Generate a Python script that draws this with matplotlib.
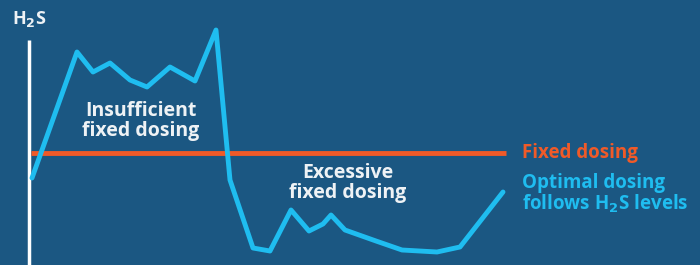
import matplotlib.pyplot as plt

# time (arbitrary units) and H2S level
time = [32, 77, 93, 110, 130, 147, 170, 195, 216, 230, 253, 270, 291, 309,
        323, 331, 345, 376, 402, 437, 460, 503]
h2s = [87, 213, 193, 202, 185, 178, 198, 184, 235, 85, 17, 14, 55, 34,
       41, 50, 35, 24, 15, 13, 18, 73]
fixed_level = 112
fixed_span = [31, 506]

bg = '#1b5782'
blue = '#1fbdf0'
orange = '#f05a28'
white = '#eef2f5'

plt.rcParams['font.family'] = ['Open Sans', 'DejaVu Sans']

fig = plt.figure(figsize=(7, 2.65), dpi=100, facecolor=bg)
ax = fig.add_axes([0, 0, 1, 1])
ax.set_facecolor(bg)
ax.set_xlim(0, 700)
ax.set_ylim(0, 265)
ax.axis('off')

# y axis
ax.plot([29, 29], [0, 225], color='white', lw=2.5, solid_capstyle='butt')

ax.plot(fixed_span, [fixed_level, fixed_level], color=orange, lw=3.5,
        solid_capstyle='butt')
ax.plot(time, h2s, color=blue, lw=3.5, solid_joinstyle='round',
        solid_capstyle='round')

ax.text(12, 246, 'H$_\\mathbf{2}$S', color=white, fontsize=13, fontweight='bold',
        ha='left', va='center')

ax.text(141, 144, 'Insufficient\nfixed dosing', color=white, fontsize=14,
        fontweight='bold', ha='center', va='center', linespacing=1.0)
ax.text(348, 82, 'Excessive\nfixed dosing', color=white, fontsize=14,
        fontweight='bold', ha='center', va='center', linespacing=1.0)

ax.text(522, fixed_level, 'Fixed dosing', color=orange, fontsize=13.5,
        fontweight='bold', ha='left', va='center')
ax.text(522, 71, 'Optimal dosing\nfollows H$_\\mathbf{2}$S levels', color=blue,
        fontsize=13.5, fontweight='bold', ha='left', va='center', linespacing=1.0)

fig.savefig('out.png', dpi=100, facecolor=bg)
